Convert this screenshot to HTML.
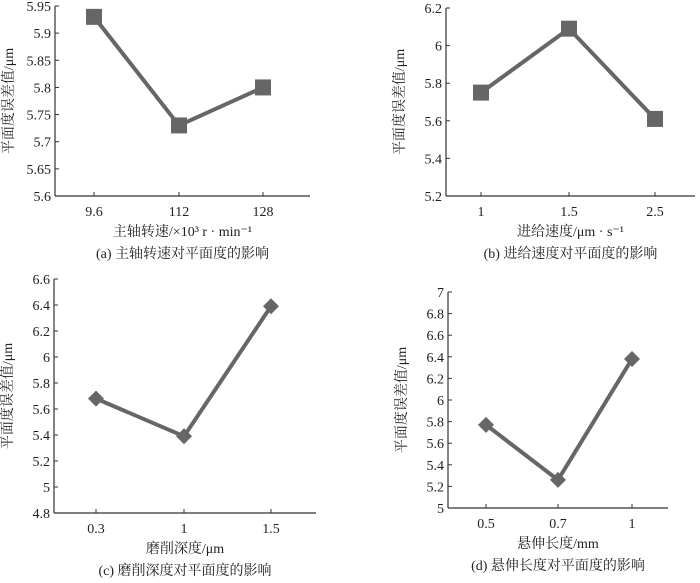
<!DOCTYPE html>
<html><head><meta charset="utf-8"><style>
body{margin:0;background:#fff}
svg text{font-family:"Liberation Serif","Noto Serif CJK SC",serif;fill:#222}
</style></head><body>
<svg id="s" width="700" height="578" viewBox="0 0 700 578"></svg>
<script>
const catsA=["9.6","112","128"], valsA=[5.93,5.73,5.8], ticksA=[5.6,5.65,5.7,5.75,5.8,5.85,5.9,5.95], tlA=["5.6","5.65","5.7","5.75","5.8","5.85","5.9","5.95"];
const catsB=["1","1.5","2.5"], valsB=[5.75,6.09,5.61], ticksB=[5.2,5.4,5.6,5.8,6,6.2], tlB=["5.2","5.4","5.6","5.8","6","6.2"];
const catsC=["0.3","1","1.5"], valsC=[5.68,5.39,6.39], ticksC=[4.8,5,5.2,5.4,5.6,5.8,6,6.2,6.4,6.6], tlC=["4.8","5","5.2","5.4","5.6","5.8","6","6.2","6.4","6.6"];
const catsD=["0.5","0.7","1"], valsD=[5.77,5.26,6.38], ticksD=[5,5.2,5.4,5.6,5.8,6,6.2,6.4,6.6,6.8,7], tlD=["5","5.2","5.4","5.6","5.8","6","6.2","6.4","6.6","6.8","7"];
const S=document.getElementById('s');const NS='http://www.w3.org/2000/svg';
function el(t,a,txt){const e=document.createElementNS(NS,t);for(const k in a)e.setAttribute(k,a[k]);if(txt!==undefined)e.textContent=txt;S.appendChild(e);return e;}
function chart(p){
 const {ax,top,bot,xend,xs,cats,vals,ticks,tl,marker,xt,cap,id}=p;
 const ymin=ticks[0],ymax=ticks[ticks.length-1];
 const Y=v=>bot-(v-ymin)/(ymax-ymin)*(bot-top);
 const X=i=>xs[i];
 let e=el('line',{x1:ax,y1:top,x2:ax,y2:bot,stroke:'#333','stroke-width':1.2});
 
 e=el('line',{x1:ax,y1:bot,x2:xend,y2:bot,stroke:'#333','stroke-width':1.2});
 
 ticks.forEach((t,i)=>{el('line',{x1:ax,y1:Y(t),x2:ax+4,y2:Y(t),stroke:'#333'});
  e=el('text',{x:ax-4,y:Y(t)+5,'text-anchor':'end','font-size':14},tl[i]);
  });
 cats.forEach((c,i)=>{el('line',{x1:X(i),y1:bot,x2:X(i),y2:bot-4,stroke:'#333'});
  e=el('text',{x:X(i),y:bot+20,'text-anchor':'middle','font-size':14},c);
  });
 e=el('polyline',{points:vals.map((v,i)=>X(i)+','+Y(v)).join(' '),fill:'none',stroke:'#666','stroke-width':4});
 
 vals.forEach((v,i)=>{const x=X(i),y=Y(v);
  if(marker==='sq')e=el('rect',{x:x-8,y:y-8,width:16,height:16,fill:'#666'});
  else e=el('polygon',{points:`${x},${y-8} ${x+8},${y} ${x},${y+8} ${x-8},${y}`,fill:'#666'});
  });
 const mid=(ax+xend)/2;
 e=el('text',{x:mid,y:bot+40,'text-anchor':'middle','font-size':14},xt);
 
 e=el('text',{x:mid,y:bot+62,'text-anchor':'middle','font-size':14},cap);
 
 const cy=(top+bot)/2;
 e=el('text',{x:0,y:0,'text-anchor':'middle','font-size':14,transform:`translate(${ax-42},${cy}) rotate(-90)`},'平面度误差值/μm');
 
}
chart({id:'chart-a',ax:55,top:6,bot:196,xend:310,xs:[94,179,263],cats:catsA,vals:valsA,ticks:ticksA,tl:tlA,marker:'sq',xt:'主轴转速/×10³ r · min⁻¹',cap:'(a) 主轴转速对平面度的影响'});
chart({id:'chart-b',ax:446,top:8,bot:196,xend:695,xs:[481,569,655],cats:catsB,vals:valsB,ticks:ticksB,tl:tlB,marker:'sq',xt:'进给速度/μm · s⁻¹',cap:'(b) 进给速度对平面度的影响'});
chart({id:'chart-c',ax:54,top:279,bot:513,xend:316,xs:[96,184,271],cats:catsC,vals:valsC,ticks:ticksC,tl:tlC,marker:'di',xt:'磨削深度/μm',cap:'(c) 磨削深度对平面度的影响'});
chart({id:'chart-d',ax:448,top:292,bot:508,xend:668,xs:[486,558,632],cats:catsD,vals:valsD,ticks:ticksD,tl:tlD,marker:'di',xt:'悬伸长度/mm',cap:'(d) 悬伸长度对平面度的影响'});
</script>
</body></html>
